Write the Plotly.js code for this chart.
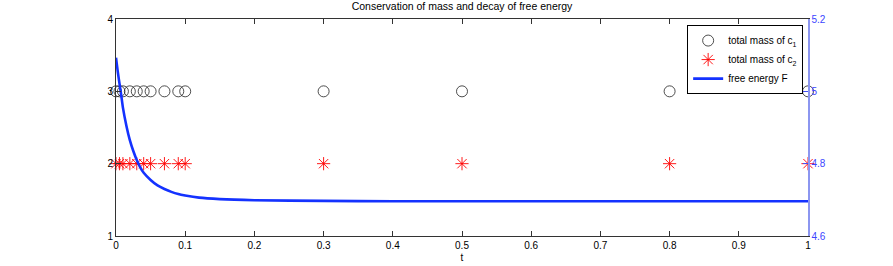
<!DOCTYPE html>
<html>
<head>
<meta charset="utf-8">
<script src="https://cdn.plot.ly/plotly-3.0.1.min.js"></script>
<style>html,body{margin:0;padding:0;background:#fff;}#chart{width:893px;height:266px;}</style>
</head>
<body>
<div id="chart"></div>
<script>
// Sample times for the mass markers
const tMass = [0, 0.005, 0.01, 0.02, 0.03, 0.04, 0.05, 0.07, 0.09, 0.1, 0.3, 0.5, 0.8, 1];
const massC1 = [3, 3, 3, 3, 3, 3, 3, 3, 3, 3, 3, 3, 3, 3];
const massC2 = [2, 2, 2, 2, 2, 2, 2, 2, 2, 2, 2, 2, 2, 2];
// Free energy curve
const tEnergy = [0, 0.0025, 0.005, 0.0075, 0.01, 0.015, 0.02, 0.025, 0.03, 0.035, 0.04, 0.05, 0.06, 0.07, 0.08, 0.09, 0.1, 0.12, 0.15, 0.2, 0.3, 0.4, 0.5, 0.6, 0.7, 0.8, 0.9, 1.0];
const energyF = [5.093, 5.055, 5.022, 4.99, 4.955, 4.905, 4.865, 4.835, 4.81, 4.79, 4.775, 4.755, 4.74, 4.73, 4.722, 4.716, 4.712, 4.706, 4.702, 4.699, 4.697, 4.696, 4.696, 4.696, 4.696, 4.696, 4.696, 4.696];
const xTicks = [0, 0.1, 0.2, 0.3, 0.4, 0.5, 0.6, 0.7, 0.8, 0.9, 1];
const yTicks = [1, 2, 3, 4];
const y2Ticks = [4.6, 4.8, 5, 5.2];

const fontFam = 'Liberation Sans, Arial, sans-serif';
const blue = 'rgb(20,50,255)';
const traces = [
  {x: tMass, y: massC1, type: 'scatter', mode: 'markers', name: 'total mass of c<sub>1</sub>', cliponaxis: false,
   marker: {symbol: 'circle-open', size: 11, color: '#222', line: {width: 0.8, color: '#222'}}},
  {x: tMass, y: massC2, type: 'scatter', mode: 'markers', name: 'total mass of c<sub>2</sub>', cliponaxis: false,
   marker: {symbol: 'asterisk-open', size: 11, color: 'red', line: {width: 0.9, color: 'red'}}},
  {x: tEnergy, y: energyF, type: 'scatter', mode: 'lines', name: 'free energy F', yaxis: 'y2',
   line: {color: blue, width: 2.6, shape: 'spline', smoothing: 0.6}}
];
const layout = {
  width: 893, height: 266,
  margin: {l: 116, r: 85, t: 19, b: 30},
  paper_bgcolor: '#fff', plot_bgcolor: '#fff',
  font: {family: fontFam, size: 10, color: '#000'},
  showlegend: true,
  title: {text: 'Conservation of mass and decay of free energy', font: {size: 10.5, color: '#000', family: fontFam}, x: 0.5, xref: 'paper', y: 0.99, yanchor: 'top'},
  xaxis: {range: [0, 1], tickvals: xTicks, ticktext: xTicks.map(String), ticks: 'inside', ticklen: 5, tickcolor: '#333',
          showline: true, linecolor: '#333', linewidth: 1, mirror: 'ticks', showgrid: false, zeroline: false,
          title: {text: 't', font: {size: 10}, standoff: 3}, tickfont: {size: 10}},
  yaxis: {range: [1, 4], tickvals: yTicks, ticks: 'inside', ticklen: 5, tickcolor: '#333',
          showline: true, linecolor: '#333', linewidth: 1, showgrid: false, zeroline: false, tickfont: {size: 10}},
  yaxis2: {range: [4.6, 5.2], tickvals: y2Ticks, ticktext: ['4.6', '4.8', '5', '5.2'], overlaying: 'y', side: 'right',
           ticks: 'inside', ticklen: 5, tickcolor: 'rgb(70,80,240)', showline: true, linecolor: 'rgb(140,150,240)', linewidth: 1.5,
           showgrid: false, zeroline: false, tickfont: {size: 10, color: 'rgb(60,70,255)'}},
  legend: {x: 0.993, xanchor: 'right', y: 0.972, yanchor: 'top', bgcolor: '#fff', bordercolor: '#000', borderwidth: 1,
           font: {size: 10, color: '#000'}, tracegroupgap: 0, itemwidth: 30}
};
Plotly.newPlot('chart', traces, layout, {displayModeBar: false, staticPlot: true});
</script>
</body>
</html>
